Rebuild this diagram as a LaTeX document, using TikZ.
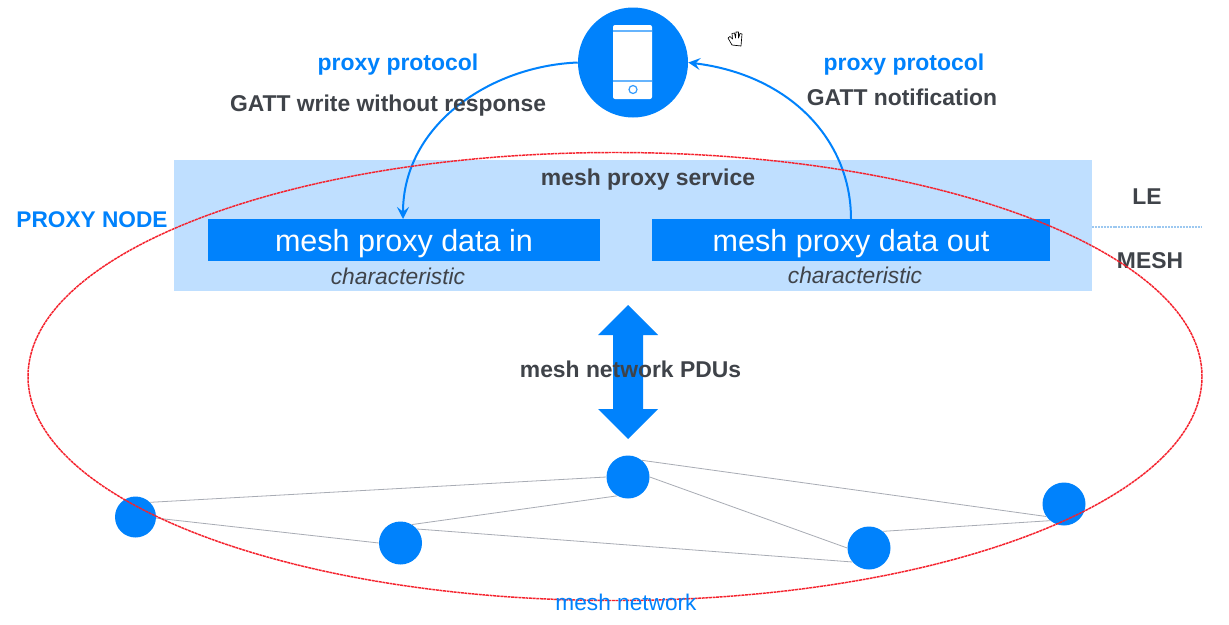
\documentclass[tikz,border=0pt]{standalone}
\usepackage{fontspec}
\setmainfont{Liberation Sans}
\usetikzlibrary{arrows.meta}
\definecolor{bblue}{HTML}{0082FC}
\definecolor{lblue}{HTML}{BFDFFF}
\definecolor{dgray}{HTML}{3F4349}
\definecolor{rred}{HTML}{F5222D}
\definecolor{lgray}{HTML}{A8ACB4}
\definecolor{dotblue}{HTML}{9CC8F0}
\tikzset{
 lbl/.style={font=\fontsize{17.15}{20}\selectfont\bfseries,text=dgray,inner sep=0pt},
 blbl/.style={font=\fontsize{17.2}{20}\selectfont\bfseries,text=bblue,inner sep=0pt},
 databox/.style={fill=bblue,text=white,inner sep=0pt},
 datatext/.style={text=white,inner sep=0pt,font=\fontsize{22.9}{26}\selectfont},
 charlbl/.style={font=\fontsize{17.1}{19}\selectfont\itshape,text=dgray,inner sep=0pt},
 meshnode/.style={circle,fill=bblue,inner sep=0pt},
 link/.style={draw=lgray,line width=0.6pt},
 flow/.style={draw=bblue,line width=1.5pt,-{Stealth[length=9pt,width=9pt,inset=3.5pt]}},
}
\begin{document}
\begin{tikzpicture}[x=0.75pt,y=-0.75pt]
\useasboundingbox (0,0) rectangle (1229,625);
\fill[white] (0,0) rectangle (1229,625);
% service
\node[fill=lblue,minimum width=918*0.75pt,minimum height=131*0.75pt,inner sep=0pt] (svc) at (633,225) {};
\node[databox,minimum width=392*0.75pt,minimum height=42*0.75pt] (din) at (404,240) {};
\node[databox,minimum width=398*0.75pt,minimum height=42*0.75pt] (dout) at (851,240) {};
\node[datatext] (dint) at (404,244) {mesh proxy data in};
\node[datatext] (doutt) at (851,244) {mesh proxy data out};
\node[lbl,font=\fontsize{17.2}{20}\selectfont\bfseries] (svct) at (648,180) {mesh proxy service};
\node[charlbl] (c1) at (398,276) {characteristic};
\node[charlbl] (c2) at (855,275) {characteristic};
% phone
\node[meshnode,minimum size=110*0.75pt] (phone) at (633,62.5) {};
\fill[white,rounded corners=1.5pt] (613,25) rectangle (652,99);
\draw[bblue!60,line width=0.8pt] (613,31) -- (652,31);
\draw[bblue!60,line width=0.8pt] (613,81) -- (652,81);
\draw[bblue!80,line width=0.9pt] (633,89.5) circle (4);
% curves
\coordinate (inend) at (403,219);
\coordinate (outstart) at (851,219);
\draw[flow] (phone.west) .. controls (490,66) and (403,125) .. (inend);
\draw[flow] (outstart) .. controls (851,140) and (790,75) .. (phone.east);
% labels
\node[blbl] (pp1) at (398,64.5) {proxy protocol};
\node[blbl] (pp2) at (904,64.5) {proxy protocol};
\node[lbl] (g1) at (388,106) {GATT write without response};
\node[lbl] (g2) at (902,97) {GATT notification};
\node[blbl,font=\fontsize{17}{19}\selectfont\bfseries] (pn) at (92,220) {PROXY NODE};
\node[lbl] (le) at (1147,197) {LE};
\node[lbl] (mesh) at (1150,261) {MESH};
\coordinate (dl) at (1092,227);
\coordinate (dr) at (1202,227);
\draw[dotblue,line width=0.8pt,dash pattern=on 1.5pt off 0.7pt] (dl) -- (dr);
% big arrow
\fill[bblue] (628,305) -- (658,335) -- (643,335) -- (643,409) -- (658,409) -- (628,439) -- (598,409) -- (613,409) -- (613,335) -- (598,335) -- cycle;
\node[lbl] (pdu) at (630.5,369) {mesh network PDUs};
% mesh
\node[meshnode,minimum size=41*0.75pt] (n1) at (135.5,517) {};
\node[meshnode,minimum size=43*0.75pt] (n2) at (400.5,543) {};
\node[meshnode,minimum size=43*0.75pt] (n3) at (628,477) {};
\node[meshnode,minimum size=43*0.75pt] (n4) at (869,548) {};
\node[meshnode,minimum size=43*0.75pt] (n5) at (1064,504) {};
\draw[link] (n1.45) -- (n3.180);
\draw[link] (n1.-3) -- (n2.180);
\draw[link] (n2.58) -- (n3.-120);
\draw[link] (n2.40) -- (n4.-140);
\draw[link] (n3.0) -- (n4.180);
\draw[link] (n3.50) -- (n5.-145);
\draw[link] (n4.50) -- (n5.-130);
% ellipse
\draw[rred,line width=1.1pt,dash pattern=on 2.2pt off 0.5pt] (615,376.5) ellipse [x radius=587,y radius=224];
\node[inner sep=0pt,text=bblue,font=\fontsize{17}{19}\selectfont] (mn) at (626,602) {mesh network};
% hand cursor
\draw[black,line width=0.5pt,fill=white,line join=round] (732,45) -- (728,38) -- (730,36.5) -- (732.5,39) -- (732,33.5) -- (734.5,33) -- (735.5,38) -- (736,32) -- (738.5,32) -- (738.5,38) -- (740,33.5) -- (742,34) -- (741.5,40) -- (741,46) -- cycle;
\end{tikzpicture}
\end{document}
